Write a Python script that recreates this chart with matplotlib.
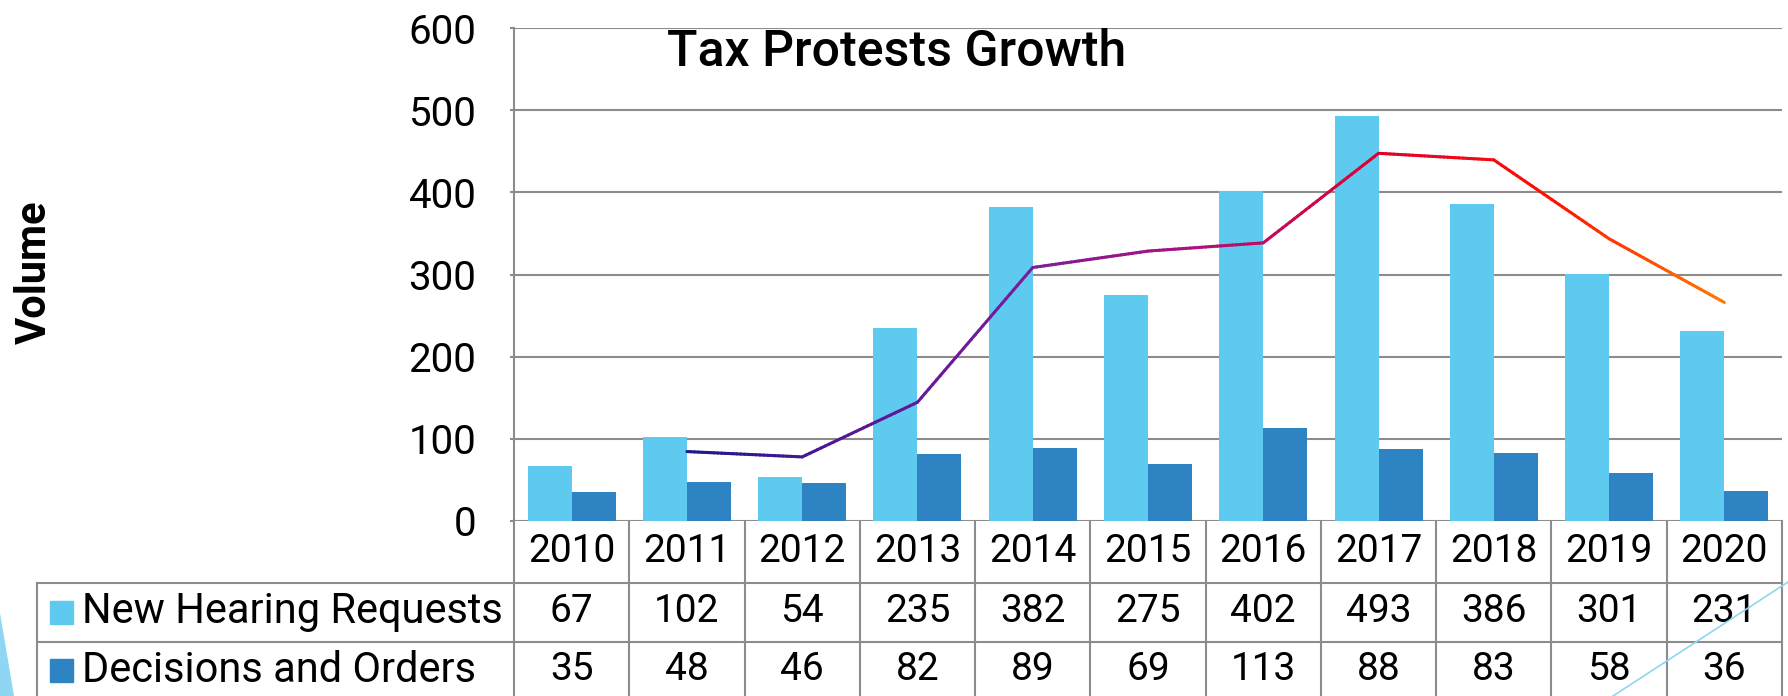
import matplotlib
matplotlib.use("Agg")
import matplotlib.pyplot as plt
import numpy as np
import pandas as pd
from matplotlib.collections import LineCollection
from matplotlib.colors import LinearSegmentedColormap
from matplotlib.transforms import blended_transform_factory
from matplotlib.patches import Rectangle, Polygon
from matplotlib.lines import Line2D

# data
years = ["2010", "2011", "2012", "2013", "2014", "2015", "2016", "2017", "2018", "2019", "2020"]
new_requests = [67, 102, 54, 235, 382, 275, 402, 493, 386, 301, 231]
decisions = [35, 48, 46, 82, 89, 69, 113, 88, 83, 58, 36]
series_names = ["New Hearing Requests", "Decisions and Orders"]
title = "Tax Protests Growth"
y_label = "Volume"

light = "#5ecaef"
dark = "#2e83c3"
gray = "#8c8c8c"
deco = "#8fd6f2"

plt.rcParams["font.family"] = ["Roboto", "DejaVu Sans"]

# figure layout in pixels
W, H = 1788, 696
L, R, B, T = 514, 1782, 521, 28
fig = plt.figure(figsize=(W / 100, H / 100), dpi=100)
ax = fig.add_axes([L / W, 1 - B / H, (R - L) / W, (B - T) / H])


def ya(ypx):
    # pixel row -> axes fraction
    return (B - ypx) / (B - T)


def xa(xpx):
    return (xpx - L) / (R - L)


x = np.arange(len(years))
w = 0.382
ax.bar(x - w / 2, new_requests, w, color=light, zorder=3)
ax.bar(x + w / 2, decisions, w, color=dark, zorder=3)

# 2-period moving average trendline with colour gradient
trend = pd.Series(new_requests).rolling(2).mean().to_numpy()
tx, ty = x[1:], trend[1:]
cmap = LinearSegmentedColormap.from_list(
    "trend", ["#1c1a8c", "#5a1696", "#7a1e9c", "#b0107a", "#e00030", "#ff1000", "#ff7a00"])
segs, cols = [], []
n_sub = 30
for i in range(len(tx) - 1):
    for k in range(n_sub):
        a, b = k / n_sub, (k + 1) / n_sub
        x0 = tx[i] + (tx[i + 1] - tx[i]) * a
        x1 = tx[i] + (tx[i + 1] - tx[i]) * b
        y0 = ty[i] + (ty[i + 1] - ty[i]) * a
        y1 = ty[i] + (ty[i + 1] - ty[i]) * b
        segs.append([(x0, y0), (x1, y1)])
        cols.append(cmap(((x0 + x1) / 2 - tx[0]) / (tx[-1] - tx[0])))
lc = LineCollection(segs, colors=cols, linewidths=2.2, zorder=4, capstyle="round")
ax.add_collection(lc)

# axes
ax.set_xlim(-0.5, len(years) - 0.5)
ax.set_ylim(0, 600)
ax.set_yticks(range(0, 601, 100))
ax.set_xticks([])
ax.yaxis.grid(True, color=gray, linewidth=1.5, zorder=1)
ax.set_axisbelow(True)
for s in ["top", "right", "bottom"]:
    ax.spines[s].set_visible(False)
ax.spines["left"].set_color(gray)
ax.spines["left"].set_linewidth(1.5)
ax.tick_params(axis="y", length=3, width=1.5, color=gray, labelsize=29, pad=24)

ax.text(xa(897), ya(52), title, transform=ax.transAxes, ha="center", va="center",
        fontsize=36, fontweight="medium")
fig.text(34 / W, 1 - 272 / H, y_label, rotation=90, ha="center", va="center",
         fontsize=30, fontweight="bold")

# data table below the plot
tr = blended_transform_factory(ax.transData, ax.transAxes)
row_top = [583, 642]
bottom = 700
for i in range(len(years) + 1):
    ax.add_line(Line2D([i - 0.5, i - 0.5], [ya(B), ya(bottom)], transform=tr,
                       color=gray, lw=1.5, clip_on=False))
ax.add_line(Line2D([xa(37), xa(37)], [ya(row_top[0]), ya(bottom)], transform=ax.transAxes,
                   color=gray, lw=1.5, clip_on=False))
for yp in row_top:
    ax.add_line(Line2D([xa(37), 1], [ya(yp), ya(yp)], transform=ax.transAxes,
                       color=gray, lw=1.5, clip_on=False))

for i, yr in enumerate(years):
    ax.text(i, ya(552), yr, transform=tr, ha="center", va="center", fontsize=28, clip_on=False)
    ax.text(i, ya(612), str(new_requests[i]), transform=tr, ha="center", va="center",
            fontsize=28, clip_on=False)
    ax.text(i, ya(669), str(decisions[i]), transform=tr, ha="center", va="center",
            fontsize=28, clip_on=False)

for name, col, ymid in zip(series_names, [light, dark], [612, 670]):
    sq = 23
    ax.add_patch(Rectangle((xa(50), ya(ymid + sq / 2)), sq / (R - L), sq / (B - T),
                           transform=ax.transAxes, color=col, clip_on=False))
    ax.text(xa(82), ya(ymid), name, transform=ax.transAxes, ha="left", va="center",
            fontsize=30, clip_on=False)

# decorative slivers
fig.add_artist(Polygon([(0, 1 - 613 / H), (14 / W, 0), (0, 0)], closed=True,
                       transform=fig.transFigure, color=deco, lw=0))
fig.add_artist(Line2D([1613 / W, 1], [0, 1 - 582 / H], transform=fig.transFigure,
                      color=deco, lw=1.2))

fig.savefig("out.png", dpi=100)
